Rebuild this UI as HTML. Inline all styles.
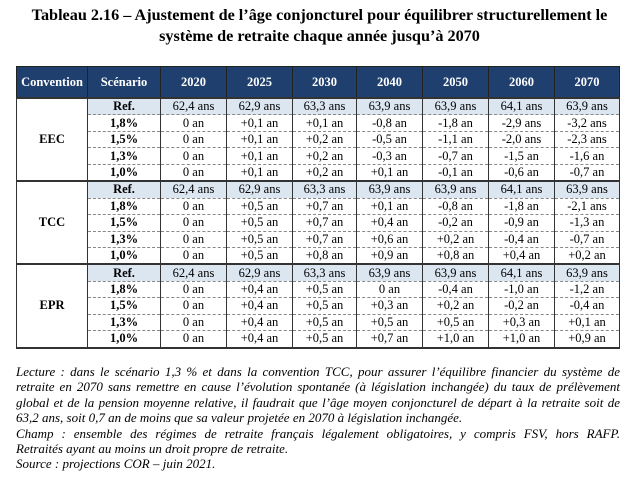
<!DOCTYPE html>
<html><head><meta charset="utf-8">
<style>
body{margin:0;width:639px;height:479px;background:#fff;font-family:"Liberation Serif",serif;color:#000;position:relative;overflow:hidden}
#title{position:absolute;left:0;top:5px;width:639px;text-align:center;font-weight:bold;font-size:16.2px;line-height:21px}
table{position:absolute;left:16px;top:66px;border-collapse:collapse;table-layout:fixed;font-size:12.5px}
th{background:#1f3f6e;color:#fff;font-weight:bold;height:30px;border:1.5px solid #222;font-size:12.5px;padding:0}
td{height:15.45px;padding:0;text-align:center;border-left:1.5px solid #333;border-right:1.5px solid #333;border-top:1px dashed #888;line-height:15px}
td.conv{font-weight:bold;border-bottom:2px solid #333;border-top:2px solid #333;background:#fff!important}
td.sc{font-weight:bold}
tr.ref td{background:#dce6f1;border-top:2px solid #333}
tr.last td{border-bottom:2px solid #333}
#notes{position:absolute;left:16px;top:364px;width:604px;font-style:italic;font-size:13px;line-height:15.4px}
#notes div{text-align:justify;text-align-last:justify;white-space:nowrap}
#notes div.l{text-align-last:left}
</style></head><body>
<div id="title">Tableau 2.16 – Ajustement de l’âge conjoncturel pour équilibrer structurellement le<br>système de retraite chaque année jusqu’à 2070</div>
<table>
<colgroup><col style="width:71px"><col style="width:73px"><col style="width:66px"><col style="width:66px"><col style="width:64px"><col style="width:66px"><col style="width:66px"><col style="width:66px"><col style="width:65px"></colgroup>
<thead><tr><th>Convention</th><th>Scénario</th><th>2020</th><th>2025</th><th>2030</th><th>2040</th><th>2050</th><th>2060</th><th>2070</th></tr></thead>
<tbody id="tb"></tbody>
</table>
<div id="notes">
<div>Lecture : dans le scénario 1,3 % et dans la convention TCC, pour assurer l’équilibre financier du système de</div>
<div>retraite en 2070 sans remettre en cause l’évolution spontanée (à législation inchangée) du taux de prélèvement</div>
<div>global et de la pension moyenne relative, il faudrait que l’âge moyen conjoncturel de départ à la retraite soit de</div>
<div class="l">63,2 ans, soit 0,7 an de moins que sa valeur projetée en 2070 à législation inchangée.</div>
<div>Champ : ensemble des régimes de retraite français légalement obligatoires, y compris FSV, hors RAFP.</div>
<div class="l">Retraités ayant au moins un droit propre de retraite.</div>
<div class="l">Source : projections COR – juin 2021.</div>
</div>
<script>
const conventions=["EEC","TCC","EPR"];
const scenarios=["Ref.","1,8%","1,5%","1,3%","1,0%"];
const eec=[["62,4 ans","62,9 ans","63,3 ans","63,9 ans","63,9 ans","64,1 ans","63,9 ans"],["0 an","+0,1 an","+0,1 an","-0,8 an","-1,8 an","-2,9 ans","-3,2 ans"],["0 an","+0,1 an","+0,2 an","-0,5 an","-1,1 an","-2,0 ans","-2,3 ans"],["0 an","+0,1 an","+0,2 an","-0,3 an","-0,7 an","-1,5 an","-1,6 an"],["0 an","+0,1 an","+0,2 an","+0,1 an","-0,1 an","-0,6 an","-0,7 an"]];
const tcc=[["62,4 ans","62,9 ans","63,3 ans","63,9 ans","63,9 ans","64,1 ans","63,9 ans"],["0 an","+0,5 an","+0,7 an","+0,1 an","-0,8 an","-1,8 an","-2,1 ans"],["0 an","+0,5 an","+0,7 an","+0,4 an","-0,2 an","-0,9 an","-1,3 an"],["0 an","+0,5 an","+0,7 an","+0,6 an","+0,2 an","-0,4 an","-0,7 an"],["0 an","+0,5 an","+0,8 an","+0,9 an","+0,8 an","+0,4 an","+0,2 an"]];
const epr=[["62,4 ans","62,9 ans","63,3 ans","63,9 ans","63,9 ans","64,1 ans","63,9 ans"],["0 an","+0,4 an","+0,5 an","0 an","-0,4 an","-1,0 an","-1,2 an"],["0 an","+0,4 an","+0,5 an","+0,3 an","+0,2 an","-0,2 an","-0,4 an"],["0 an","+0,4 an","+0,5 an","+0,5 an","+0,5 an","+0,3 an","+0,1 an"],["0 an","+0,4 an","+0,5 an","+0,7 an","+1,0 an","+1,0 an","+0,9 an"]];
const groups=[eec,tcc,epr];
const tb=document.getElementById('tb');
groups.forEach((g,gi)=>{
  g.forEach((row,ri)=>{
    const tr=document.createElement('tr');
    
    
    if(ri===0)tr.className='ref';
    if(ri===4)tr.className='last';
    if(ri===0){
      const c=document.createElement('td');c.className='conv';c.rowSpan=5;c.textContent=conventions[gi];
      
      
      tr.appendChild(c);
    }
    const s=document.createElement('td');s.className='sc';s.textContent=scenarios[ri];
    
    
    tr.appendChild(s);
    row.forEach(v=>{const d=document.createElement('td');d.textContent=v;
      
      
      tr.appendChild(d);});
    tb.appendChild(tr);
  });
});
</script>
</body></html>
